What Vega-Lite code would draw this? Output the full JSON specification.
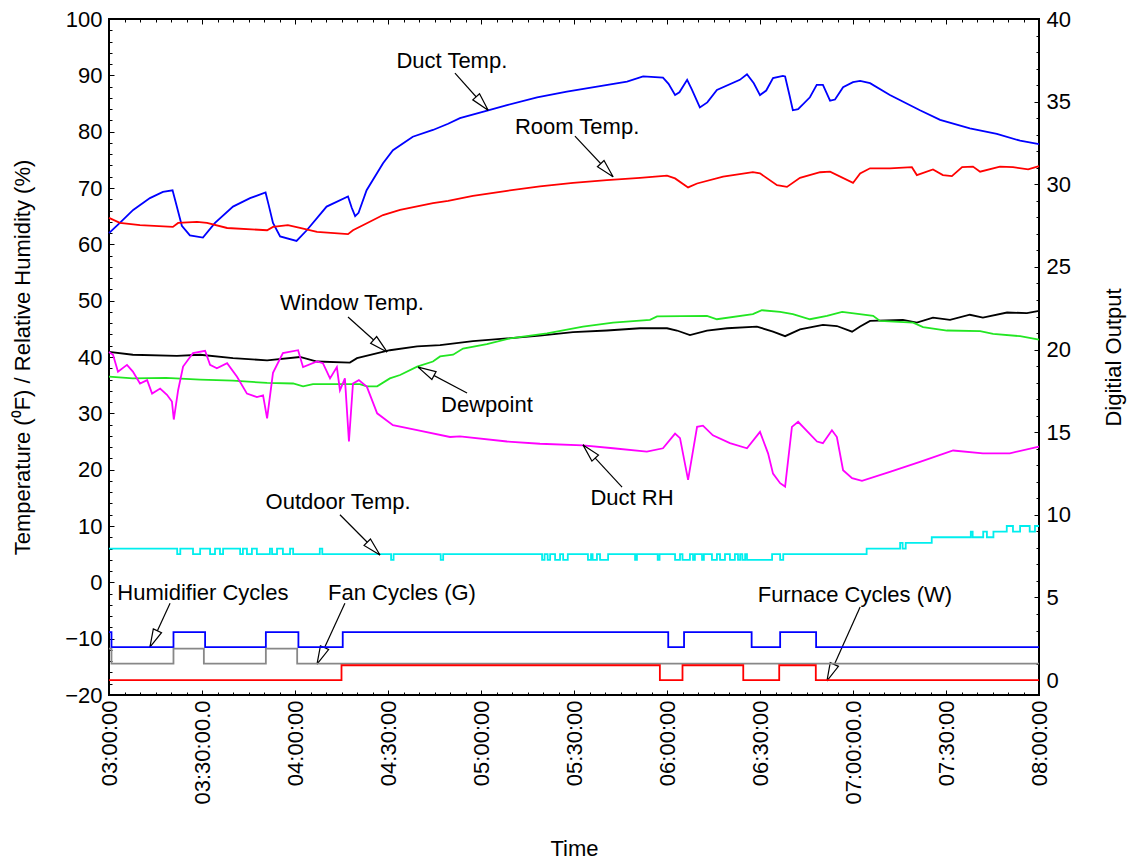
{
  "$schema": "https://vega.github.io/schema/vega-lite/v6.json",
  "autosize": {"type": "none"},
  "width": 930,
  "height": 676,
  "padding": {"left": 109, "top": 19, "right": 89, "bottom": 164},
  "background": "white",
  "config": {
    "font": "Liberation Sans",
    "view": {"stroke": "black", "strokeWidth": 2},
    "axis": {"labelFont": "Liberation Sans", "titleFont": "Liberation Sans", "labelColor": "black", "titleColor": "black", "tickColor": "black", "titleFontWeight": "normal", "grid": false, "domain": false, "labelOverlap": false, "labelFlush": false, "labelBound": false}
  },
  "datasets": {
    "series": [
      {"s":"duct","t":0,"v":62.0},{"s":"duct","t":3.5,"v":63.8},{"s":"duct","t":7.8,"v":66.1},{"s":"duct","t":13.2,"v":68.2},{"s":"duct","t":17.4,"v":69.3},{"s":"duct","t":20.5,"v":69.6},{"s":"duct","t":21.5,"v":67.5},{"s":"duct","t":23.5,"v":63.3},{"s":"duct","t":26.1,"v":61.6},{"s":"duct","t":30.3,"v":61.2},{"s":"duct","t":34.2,"v":63.8},{"s":"duct","t":40,"v":66.7},{"s":"duct","t":45.5,"v":68.2},{"s":"duct","t":50.5,"v":69.2},{"s":"duct","t":51.5,"v":67.0},{"s":"duct","t":52.9,"v":63.8},{"s":"duct","t":55.2,"v":61.4},{"s":"duct","t":60.5,"v":60.6},{"s":"duct","t":63.8,"v":62.5},{"s":"duct","t":70.2,"v":66.7},{"s":"duct","t":77.1,"v":68.5},{"s":"duct","t":78.3,"v":66.5},{"s":"duct","t":79.4,"v":65.0},{"s":"duct","t":80.5,"v":65.6},{"s":"duct","t":83.1,"v":69.6},{"s":"duct","t":88.4,"v":74.4},{"s":"duct","t":91.6,"v":76.7},{"s":"duct","t":98,"v":79.1},{"s":"duct","t":104.5,"v":80.3},{"s":"duct","t":109.4,"v":81.4},{"s":"duct","t":113.2,"v":82.4},{"s":"duct","t":122.3,"v":83.8},{"s":"duct","t":128.4,"v":84.7},{"s":"duct","t":138.1,"v":86.1},{"s":"duct","t":147.7,"v":87.1},{"s":"duct","t":158.4,"v":88.1},{"s":"duct","t":167.1,"v":88.9},{"s":"duct","t":172.3,"v":89.8},{"s":"duct","t":178.7,"v":89.6},{"s":"duct","t":180.5,"v":88.5},{"s":"duct","t":182.6,"v":86.5},{"s":"duct","t":184,"v":87.0},{"s":"duct","t":186.5,"v":89.2},{"s":"duct","t":188,"v":87.5},{"s":"duct","t":190.6,"v":84.3},{"s":"duct","t":193,"v":85.2},{"s":"duct","t":196.1,"v":87.4},{"s":"duct","t":203.5,"v":89.2},{"s":"duct","t":205.8,"v":90.2},{"s":"duct","t":208,"v":88.6},{"s":"duct","t":210,"v":86.5},{"s":"duct","t":212,"v":87.3},{"s":"duct","t":214.2,"v":89.5},{"s":"duct","t":217.4,"v":89.9},{"s":"duct","t":218.1,"v":89.8},{"s":"duct","t":219.5,"v":86.5},{"s":"duct","t":220.6,"v":83.8},{"s":"duct","t":222.3,"v":84.0},{"s":"duct","t":226.1,"v":86.1},{"s":"duct","t":228.3,"v":88.3},{"s":"duct","t":230.3,"v":88.3},{"s":"duct","t":232.6,"v":85.5},{"s":"duct","t":234.2,"v":85.7},{"s":"duct","t":236.8,"v":87.9},{"s":"duct","t":240,"v":88.8},{"s":"duct","t":242.3,"v":89.0},{"s":"duct","t":245.5,"v":88.6},{"s":"duct","t":251.9,"v":86.5},{"s":"duct","t":261.6,"v":83.8},{"s":"duct","t":268.1,"v":82.1},{"s":"duct","t":277.7,"v":80.6},{"s":"duct","t":286.4,"v":79.6},{"s":"duct","t":293.9,"v":78.4},{"s":"duct","t":300,"v":77.8},
      {"s":"room","t":0,"v":64.7},{"s":"room","t":3.5,"v":63.8},{"s":"room","t":10,"v":63.4},{"s":"room","t":20.6,"v":63.1},{"s":"room","t":22.3,"v":63.8},{"s":"room","t":28.4,"v":64.0},{"s":"room","t":31.6,"v":63.8},{"s":"room","t":38.1,"v":62.9},{"s":"room","t":51,"v":62.5},{"s":"room","t":52.9,"v":63.1},{"s":"room","t":57.7,"v":63.4},{"s":"room","t":61.6,"v":62.9},{"s":"room","t":67.1,"v":62.2},{"s":"room","t":77.1,"v":61.8},{"s":"room","t":78.7,"v":62.5},{"s":"room","t":81.9,"v":63.4},{"s":"room","t":88.4,"v":65.2},{"s":"room","t":93.9,"v":66.1},{"s":"room","t":104.5,"v":67.3},{"s":"room","t":109.4,"v":67.7},{"s":"room","t":117.4,"v":68.6},{"s":"room","t":128.4,"v":69.5},{"s":"room","t":139,"v":70.3},{"s":"room","t":149.7,"v":70.9},{"s":"room","t":160.6,"v":71.4},{"s":"room","t":171.3,"v":71.8},{"s":"room","t":180,"v":72.2},{"s":"room","t":182.6,"v":71.7},{"s":"room","t":186.8,"v":70.1},{"s":"room","t":189.7,"v":70.8},{"s":"room","t":198.1,"v":72.0},{"s":"room","t":207.7,"v":72.8},{"s":"room","t":210,"v":72.6},{"s":"room","t":215.5,"v":70.5},{"s":"room","t":218.7,"v":70.2},{"s":"room","t":222.9,"v":71.8},{"s":"room","t":229.4,"v":72.8},{"s":"room","t":232.6,"v":72.9},{"s":"room","t":240,"v":70.9},{"s":"room","t":242.3,"v":72.6},{"s":"room","t":245.5,"v":73.5},{"s":"room","t":251.9,"v":73.5},{"s":"room","t":259,"v":73.7},{"s":"room","t":260.6,"v":72.3},{"s":"room","t":265.8,"v":73.3},{"s":"room","t":269,"v":72.3},{"s":"room","t":271.9,"v":72.1},{"s":"room","t":275.2,"v":73.7},{"s":"room","t":278.7,"v":73.8},{"s":"room","t":281,"v":72.9},{"s":"room","t":287.4,"v":73.8},{"s":"room","t":291.6,"v":73.7},{"s":"room","t":296.5,"v":73.3},{"s":"room","t":300,"v":73.9},
      {"s":"window","t":0,"v":40.9},{"s":"window","t":7.7,"v":40.4},{"s":"window","t":21.9,"v":40.2},{"s":"window","t":29.4,"v":40.4},{"s":"window","t":40,"v":39.8},{"s":"window","t":51,"v":39.4},{"s":"window","t":61.6,"v":40.0},{"s":"window","t":67.1,"v":39.2},{"s":"window","t":77.7,"v":39.0},{"s":"window","t":80,"v":39.8},{"s":"window","t":90.6,"v":41.2},{"s":"window","t":99.4,"v":41.9},{"s":"window","t":106.8,"v":42.1},{"s":"window","t":117.4,"v":42.8},{"s":"window","t":128.4,"v":43.3},{"s":"window","t":139,"v":43.8},{"s":"window","t":149.7,"v":44.4},{"s":"window","t":160.6,"v":44.7},{"s":"window","t":171.3,"v":45.1},{"s":"window","t":180,"v":45.1},{"s":"window","t":183.2,"v":44.7},{"s":"window","t":187.4,"v":43.9},{"s":"window","t":192.9,"v":44.7},{"s":"window","t":199.4,"v":45.1},{"s":"window","t":209,"v":45.4},{"s":"window","t":214.2,"v":44.5},{"s":"window","t":218.1,"v":43.7},{"s":"window","t":222.9,"v":44.9},{"s":"window","t":230.3,"v":45.7},{"s":"window","t":234.8,"v":45.5},{"s":"window","t":239.7,"v":44.5},{"s":"window","t":242.3,"v":45.4},{"s":"window","t":245.5,"v":46.4},{"s":"window","t":256.1,"v":46.6},{"s":"window","t":260.6,"v":46.1},{"s":"window","t":265.8,"v":47.0},{"s":"window","t":271.3,"v":46.6},{"s":"window","t":277.7,"v":47.5},{"s":"window","t":281.9,"v":47.0},{"s":"window","t":289.7,"v":47.9},{"s":"window","t":296.1,"v":47.8},{"s":"window","t":300,"v":48.2},
      {"s":"dew","t":0,"v":36.5},{"s":"dew","t":7.7,"v":36.2},{"s":"dew","t":18.4,"v":36.3},{"s":"dew","t":29.4,"v":36.0},{"s":"dew","t":40,"v":35.8},{"s":"dew","t":51,"v":35.4},{"s":"dew","t":59.4,"v":35.3},{"s":"dew","t":62.6,"v":34.8},{"s":"dew","t":65.8,"v":35.2},{"s":"dew","t":72.3,"v":35.2},{"s":"dew","t":80.9,"v":35.2},{"s":"dew","t":83.2,"v":34.8},{"s":"dew","t":86.5,"v":34.8},{"s":"dew","t":90.6,"v":36.2},{"s":"dew","t":93.9,"v":36.8},{"s":"dew","t":99.4,"v":38.3},{"s":"dew","t":104.5,"v":39.2},{"s":"dew","t":106.8,"v":40.1},{"s":"dew","t":111,"v":40.4},{"s":"dew","t":114.2,"v":41.5},{"s":"dew","t":121.9,"v":42.3},{"s":"dew","t":129.4,"v":43.3},{"s":"dew","t":141.3,"v":44.2},{"s":"dew","t":152.9,"v":45.4},{"s":"dew","t":162.6,"v":46.1},{"s":"dew","t":174.5,"v":46.6},{"s":"dew","t":176.8,"v":47.2},{"s":"dew","t":192.9,"v":47.3},{"s":"dew","t":196.1,"v":46.7},{"s":"dew","t":207.7,"v":47.6},{"s":"dew","t":210.6,"v":48.3},{"s":"dew","t":216.5,"v":48.0},{"s":"dew","t":220.6,"v":47.6},{"s":"dew","t":226.1,"v":46.7},{"s":"dew","t":231.6,"v":47.3},{"s":"dew","t":236.5,"v":48.0},{"s":"dew","t":246.5,"v":47.3},{"s":"dew","t":248.7,"v":46.4},{"s":"dew","t":259.4,"v":46.1},{"s":"dew","t":262.6,"v":45.3},{"s":"dew","t":270.3,"v":44.7},{"s":"dew","t":281,"v":44.6},{"s":"dew","t":285.2,"v":44.1},{"s":"dew","t":293.9,"v":43.7},{"s":"dew","t":300,"v":43.1},
      {"s":"rh","t":0,"v":40.9},{"s":"rh","t":1.3,"v":40.4},{"s":"rh","t":2.9,"v":37.4},{"s":"rh","t":5.8,"v":38.6},{"s":"rh","t":7.7,"v":37.4},{"s":"rh","t":10,"v":35.3},{"s":"rh","t":12.3,"v":35.9},{"s":"rh","t":13.9,"v":33.5},{"s":"rh","t":16.5,"v":34.4},{"s":"rh","t":18.7,"v":33.3},{"s":"rh","t":20.3,"v":32.1},{"s":"rh","t":20.9,"v":28.9},{"s":"rh","t":22.3,"v":34.1},{"s":"rh","t":23.9,"v":38.3},{"s":"rh","t":27.1,"v":40.7},{"s":"rh","t":31,"v":41.1},{"s":"rh","t":32.6,"v":38.6},{"s":"rh","t":34.8,"v":38.0},{"s":"rh","t":38.1,"v":38.9},{"s":"rh","t":41.3,"v":36.5},{"s":"rh","t":44.5,"v":33.5},{"s":"rh","t":47.7,"v":32.9},{"s":"rh","t":49.7,"v":33.2},{"s":"rh","t":51,"v":29.1},{"s":"rh","t":52.9,"v":37.2},{"s":"rh","t":56.1,"v":40.7},{"s":"rh","t":61,"v":41.2},{"s":"rh","t":62.6,"v":38.2},{"s":"rh","t":67.1,"v":39.2},{"s":"rh","t":69,"v":38.9},{"s":"rh","t":71.3,"v":36.2},{"s":"rh","t":73.5,"v":38.2},{"s":"rh","t":74.5,"v":34.1},{"s":"rh","t":76.1,"v":36.2},{"s":"rh","t":77.4,"v":25.0},{"s":"rh","t":78.7,"v":35.3},{"s":"rh","t":80.6,"v":35.9},{"s":"rh","t":83.2,"v":34.7},{"s":"rh","t":86.5,"v":30.0},{"s":"rh","t":91.6,"v":27.9},{"s":"rh","t":99.4,"v":27.0},{"s":"rh","t":110,"v":25.8},{"s":"rh","t":113.2,"v":25.9},{"s":"rh","t":128.4,"v":25.0},{"s":"rh","t":139,"v":24.6},{"s":"rh","t":152.9,"v":24.3},{"s":"rh","t":162.6,"v":23.8},{"s":"rh","t":173.5,"v":23.2},{"s":"rh","t":178.7,"v":23.8},{"s":"rh","t":182.6,"v":26.4},{"s":"rh","t":184.2,"v":25.6},{"s":"rh","t":186.8,"v":18.2},{"s":"rh","t":189.7,"v":27.6},{"s":"rh","t":191.6,"v":27.8},{"s":"rh","t":194.8,"v":26.1},{"s":"rh","t":200.3,"v":24.7},{"s":"rh","t":205.8,"v":23.8},{"s":"rh","t":210,"v":26.7},{"s":"rh","t":212.6,"v":22.9},{"s":"rh","t":214.2,"v":19.3},{"s":"rh","t":216.5,"v":17.6},{"s":"rh","t":218.1,"v":17.0},{"s":"rh","t":220.3,"v":27.6},{"s":"rh","t":222.3,"v":28.5},{"s":"rh","t":228.4,"v":25.0},{"s":"rh","t":230.3,"v":24.7},{"s":"rh","t":233.2,"v":27.0},{"s":"rh","t":234.8,"v":25.8},{"s":"rh","t":236.8,"v":19.9},{"s":"rh","t":239.7,"v":18.5},{"s":"rh","t":242.9,"v":18.0},{"s":"rh","t":251.9,"v":19.6},{"s":"rh","t":261.6,"v":21.4},{"s":"rh","t":272.3,"v":23.4},{"s":"rh","t":281.9,"v":22.9},{"s":"rh","t":290.6,"v":22.9},{"s":"rh","t":300,"v":24.1}
    ],
    "outdoor": [
      {"t":0,"v":6},{"t":22.0,"v":5},{"t":23.0,"v":6},{"t":27.1,"v":5},{"t":29.4,"v":6},{"t":32.6,"v":5},{"t":34.2,"v":6},{"t":35.8,"v":5},{"t":36.8,"v":6},{"t":42.3,"v":5},{"t":43.2,"v":6},{"t":44.5,"v":5},{"t":46.1,"v":6},{"t":47.7,"v":5},{"t":51.9,"v":6},{"t":52.6,"v":5},{"t":54.2,"v":6},{"t":56.1,"v":5},{"t":58.4,"v":6},{"t":59.4,"v":5},{"t":68.0,"v":6},{"t":68.8,"v":5},{"t":91.0,"v":4},{"t":91.8,"v":5},{"t":107.0,"v":4},{"t":107.8,"v":5},{"t":139.7,"v":4},{"t":140.5,"v":5},{"t":141.5,"v":4},{"t":142.3,"v":5},{"t":143.9,"v":4},{"t":145.5,"v":5},{"t":146.5,"v":4},{"t":148,"v":5},{"t":154.5,"v":4},{"t":155.5,"v":5},{"t":156,"v":4},{"t":157.4,"v":5},{"t":158.4,"v":4},{"t":161,"v":5},{"t":169.7,"v":4},{"t":170.3,"v":5},{"t":177,"v":4},{"t":177.6,"v":5},{"t":182.6,"v":4},{"t":184.2,"v":5},{"t":185,"v":4},{"t":187.4,"v":5},{"t":188.4,"v":4},{"t":189,"v":5},{"t":191.3,"v":4},{"t":191.9,"v":5},{"t":194.5,"v":4},{"t":196.1,"v":5},{"t":197.1,"v":4},{"t":198.7,"v":5},{"t":200.3,"v":4},{"t":201.9,"v":5},{"t":202.9,"v":4},{"t":203.6,"v":5},{"t":204.3,"v":4},{"t":205.2,"v":5},{"t":205.8,"v":4},{"t":213.9,"v":5},{"t":216.5,"v":4},{"t":217.5,"v":5},{"t":244.4,"v":6},{"t":255.2,"v":7},{"t":256,"v":6},{"t":257,"v":7},{"t":265.4,"v":8},{"t":278.0,"v":9},{"t":278.6,"v":8},{"t":282,"v":9},{"t":283.2,"v":8},{"t":285.3,"v":9},{"t":289.6,"v":10},{"t":291.6,"v":9},{"t":293.9,"v":10},{"t":297,"v":9},{"t":298.7,"v":10},{"t":300,"v":10}
    ],
    "cycles": [
      {"s":"hum","t":0,"v":2.9},{"s":"hum","t":0.8,"v":2.0},{"s":"hum","t":20.8,"v":2.9},{"s":"hum","t":31.0,"v":2.0},{"s":"hum","t":50.6,"v":2.9},{"s":"hum","t":61.1,"v":2.0},{"s":"hum","t":75.4,"v":2.9},{"s":"hum","t":180.4,"v":2.0},{"s":"hum","t":185.5,"v":2.9},{"s":"hum","t":207.3,"v":2.0},{"s":"hum","t":216.5,"v":2.9},{"s":"hum","t":228.1,"v":2.0},{"s":"hum","t":300,"v":2.0},
      {"s":"fan","t":0,"v":1.9},{"s":"fan","t":0.8,"v":1.0},{"s":"fan","t":20.8,"v":1.9},{"s":"fan","t":30.6,"v":1.0},{"s":"fan","t":50.6,"v":1.9},{"s":"fan","t":60.7,"v":1.0},{"s":"fan","t":300,"v":1.0},
      {"s":"furn","t":0,"v":0},{"s":"furn","t":75.0,"v":0.9},{"s":"furn","t":177.7,"v":0},{"s":"furn","t":185.0,"v":0.9},{"s":"furn","t":204.6,"v":0},{"s":"furn","t":216.2,"v":0.9},{"s":"furn","t":228.0,"v":0},{"s":"furn","t":300,"v":0}
    ],
    "ann": [
      {"label":"Duct Temp.","tx":110.6,"ty":92.5,"t1":111.6,"v1":90.4,"t2":122.3,"v2":83.8},
      {"label":"Room Temp.","tx":151,"ty":80.8,"t1":150.3,"v1":79.2,"t2":162.6,"v2":72.0},
      {"label":"Window Temp.","tx":78.4,"ty":49.6,"t1":77.1,"v1":47.1,"t2":89.7,"v2":40.9},
      {"label":"Dewpoint","tx":121.9,"ty":31.5,"t1":115.5,"v1":33.6,"t2":99.7,"v2":38.2},
      {"label":"Duct RH","tx":168.7,"ty":15.0,"t1":165.5,"v1":16.9,"t2":152.9,"v2":24.4},
      {"label":"Outdoor Temp.","tx":73.9,"ty":14.3,"t1":74.5,"v1":12.0,"t2":87.4,"v2":4.85},
      {"label":"Humidifier Cycles","tx":30.3,"ty":-1.9,"t1":19.7,"v1":-3.7,"t2":13.2,"v2":-11.5},
      {"label":"Fan Cycles (G)","tx":94.5,"ty":-1.9,"t1":76.1,"v1":-3.7,"t2":67.1,"v2":-14.5},
      {"label":"Furnace Cycles (W)","tx":240.6,"ty":-2.3,"t1":242.3,"v1":-4.4,"t2":231.6,"v2":-17.5}
    ]
  },
  "layer": [
    {
      "data": {"name": "series"},
      "mark": {"type": "line", "strokeWidth": 1.8},
      "encoding": {
        "x": {"field": "t", "type": "quantitative", "scale": {"domain": [0, 300], "nice": false, "zero": false},
          "axis": {"orient": "bottom", "title": "Time", "titleFontSize": 22, "titleX": 465, "titleY": 153, "titleBaseline": "middle", "titleAlign": "center",
            "values": [0,5,10,15,20,25,30,35,40,45,50,55,60,65,70,75,80,85,90,95,100,105,110,115,120,125,130,135,140,145,150,155,160,165,170,175,180,185,190,195,200,205,210,215,220,225,230,235,240,245,250,255,260,265,270,275,280,285,290,295,300],
            "labelExpr": "datum.value % 30 === 0 ? ['03:00:00','03:30:00.0','04:00:00','04:30:00','05:00:00','05:30:00','06:00:00','06:30:00','07:00:00.0','07:30:00','08:00:00'][round(datum.value/30)] : ''",
            "labelAngle": 270, "labelAlign": "right", "labelBaseline": "middle", "labelFontSize": 22, "labelPadding": 10, "labelOverlap": false, "labelFlush": false, "labelBound": false,
            "tickSize": {"condition": {"test": "datum.value % 30 === 0", "value": -5}, "value": -3}, "tickWidth": 1}},
        "y": {"field": "v", "type": "quantitative", "scale": {"domain": [-20, 100], "nice": false, "zero": false},
          "axis": {"orient": "left", "title": "Temperature (⁰F) / Relative Humidity (%)", "titleFontSize": 22, "titleX": -87, "titleY": 338, "titleAngle": 270, "titleBaseline": "middle", "titleAlign": "center",
            "values": [-20,-18,-16,-14,-12,-10,-8,-6,-4,-2,0,2,4,6,8,10,12,14,16,18,20,22,24,26,28,30,32,34,36,38,40,42,44,46,48,50,52,54,56,58,60,62,64,66,68,70,72,74,76,78,80,82,84,86,88,90,92,94,96,98,100],
            "labelExpr": "datum.value % 10 === 0 ? datum.label : ''", "labelFontSize": 22, "labelPadding": 12, "labelOverlap": false, "labelFlush": false, "labelBound": false,
            "tickSize": {"condition": {"test": "datum.value % 10 === 0", "value": -5}, "value": -3}, "tickWidth": 1}},
        "color": {"field": "s", "type": "nominal", "legend": null,
          "scale": {"domain": ["duct", "room", "window", "dew", "rh"], "range": ["#0000ff", "#ff0000", "#000000", "#22e622", "#ff00ff"]}},
        "detail": {"field": "s"}
      }
    },
    {
      "data": {"name": "outdoor"},
      "mark": {"type": "line", "interpolate": "step-after", "strokeWidth": 1.8, "color": "#00eeee"},
      "encoding": {
        "x": {"field": "t", "type": "quantitative", "axis": null},
        "y": {"field": "v", "type": "quantitative", "scale": {"domain": [-20, 100], "nice": false, "zero": false}, "axis": null}
      }
    },
    {
      "data": {"name": "ann"},
      "mark": {"type": "rule", "color": "black", "strokeWidth": 1.2},
      "encoding": {
        "x": {"field": "t1", "type": "quantitative", "axis": null},
        "y": {"field": "v1", "type": "quantitative", "scale": {"domain": [-20, 100], "nice": false, "zero": false}, "axis": null},
        "x2": {"field": "t2"},
        "y2": {"field": "v2"}
      }
    },
    {
      "data": {"name": "ann"},
      "transform": [{"calculate": "atan2((datum.t2-datum.t1)*3.1, (datum.v2-datum.v1)*5.633)*180/PI", "as": "ang"}],
      "mark": {"type": "point", "shape": "M0,0L-0.25,1L0.25,1Z", "filled": true, "fill": "white", "stroke": "black", "strokeWidth": 1.2, "opacity": 1, "size": 1296},
      "encoding": {
        "x": {"field": "t2", "type": "quantitative", "axis": null},
        "y": {"field": "v2", "type": "quantitative", "scale": {"domain": [-20, 100], "nice": false, "zero": false}, "axis": null},
        "angle": {"field": "ang", "type": "quantitative", "scale": null}
      }
    },
    {
      "data": {"name": "ann"},
      "mark": {"type": "text", "fontSize": 22, "color": "black", "align": "center", "baseline": "middle", "font": "Liberation Sans"},
      "encoding": {
        "x": {"field": "tx", "type": "quantitative", "axis": null},
        "y": {"field": "ty", "type": "quantitative", "scale": {"domain": [-20, 100], "nice": false, "zero": false}, "axis": null},
        "text": {"field": "label"}
      }
    },
    {
      "data": {"name": "cycles"},
      "mark": {"type": "line", "interpolate": "step-after", "strokeWidth": 1.8},
      "encoding": {
        "x": {"field": "t", "type": "quantitative",
          "axis": {"orient": "top", "title": null, "labels": false,
            "values": [0,5,10,15,20,25,30,35,40,45,50,55,60,65,70,75,80,85,90,95,100,105,110,115,120,125,130,135,140,145,150,155,160,165,170,175,180,185,190,195,200,205,210,215,220,225,230,235,240,245,250,255,260,265,270,275,280,285,290,295,300],
            "tickSize": {"condition": {"test": "datum.value % 30 === 0", "value": -5}, "value": -3}, "tickWidth": 1}},
        "y": {"field": "v", "type": "quantitative", "scale": {"domain": [-0.9, 40], "nice": false, "zero": false},
          "axis": {"orient": "right", "title": "Digitial Output", "titleFontSize": 22, "titleX": 74, "titleY": 338, "titleAngle": 270, "titleBaseline": "middle", "titleAlign": "center",
            "values": [0,1,2,3,4,5,6,7,8,9,10,11,12,13,14,15,16,17,18,19,20,21,22,23,24,25,26,27,28,29,30,31,32,33,34,35,36,37,38,39,40],
            "labelExpr": "datum.value % 5 === 0 ? datum.label : ''", "labelFontSize": 22, "labelPadding": 12, "labelOverlap": false, "labelFlush": false, "labelBound": false,
            "tickSize": {"condition": {"test": "datum.value % 5 === 0", "value": -5}, "value": -3}, "tickWidth": 1}},
        "color": {"field": "s", "type": "nominal", "legend": null,
          "scale": {"domain": ["hum", "fan", "furn"], "range": ["#0000ff", "#888888", "#ff0000"]}}
      }
    }
  ],
  "resolve": {"scale": {"y": "independent", "color": "independent"}, "axis": {"x": "independent", "y": "independent"}}
}
